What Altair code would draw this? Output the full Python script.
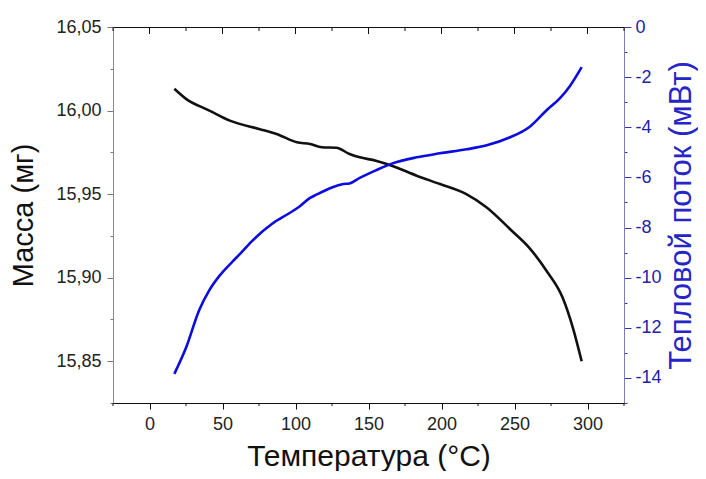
import altair as alt
import pandas as pd

# Mass curve (black, left axis)
temp_mass = [17, 25, 41, 55, 75, 87, 101, 110, 118, 128, 137, 144, 155, 166, 183,
             199, 217, 231, 247, 260, 272, 283, 290, 296]
mass = [16.013, 16.007, 16.000, 15.994, 15.989, 15.986, 15.981, 15.980, 15.978,
        15.9777, 15.974, 15.972, 15.970, 15.967, 15.961, 15.956, 15.950, 15.942,
        15.929, 15.918, 15.904, 15.888, 15.870, 15.850]

# Heat flow curve (blue, right axis)
temp_hf = [17, 25, 34, 41, 48, 57, 62, 70, 84, 96, 103, 110, 114, 125, 132, 137,
           144, 155, 166, 183, 199, 217, 231, 247, 260, 272, 281, 288, 296]
heat = [-13.84, -12.8, -11.3, -10.5, -9.92, -9.35, -9.05, -8.55, -7.85, -7.42,
        -7.15, -6.82, -6.7, -6.4, -6.27, -6.24, -6.02, -5.72, -5.45, -5.2, -5.04,
        -4.88, -4.72, -4.4, -4.0, -3.32, -2.85, -2.35, -1.6]

# Axis tick values
x_major = [0, 50, 100, 150, 200, 250, 300]
x_minor = [-25, 25, 75, 125, 175, 225, 275, 325]
mass_ticks = [15.825, 15.85, 15.875, 15.9, 15.925, 15.95, 15.975, 16.0, 16.025, 16.05]
heat_ticks = [0, -1, -2, -3, -4, -5, -6, -7, -8, -9, -10, -11, -12, -13, -14, -15]

FONT = "Liberation Sans"
W, H = 511, 376

df_mass = pd.DataFrame({"T": temp_mass, "m": mass})
df_hf = pd.DataFrame({"T": temp_hf, "h": heat})
df_major = pd.DataFrame({"T": x_major})
df_minor = pd.DataFrame({"T": x_minor})

xs = alt.Scale(domain=[-25, 325], nice=False, zero=False)

x_axis = alt.Axis(
    orient="bottom", values=x_major, title="Температура (°C)", format="d",
    tickSize=6, tickColor="#111111",
    labelFontSize=18, labelFont=FONT, labelColor="#222222", labelPadding=6,
    titleFontSize=30, titleFont=FONT, titleFontWeight="normal", titleColor="#111111",
    titlePadding=8, domainColor="#111111", grid=False,
    labelOverlap=False, labelFlush=False,
)

left_axis = alt.Axis(
    orient="left", values=mass_ticks, title="Масса (мг)",
    labelExpr="round(datum.value*40) % 2 === 0 ? replace(format(datum.value, '.2f'), '.', ',') : ''",
    tickSize={"condition": {"test": "round(datum.value*40) % 2 === 0", "value": 6}, "value": 3},
    labelFontSize=18, labelFont=FONT, labelColor="#222222", labelPadding=6,
    titleFontSize=29, titleFont=FONT, titleFontWeight="normal", titleColor="#111111",
    titlePadding=17, domainColor="#8a8a8a", tickColor="#777777", grid=False,
    labelOverlap=False, labelFlush=False,
)

right_axis = alt.Axis(
    orient="right", values=heat_ticks, title="Тепловой поток (мВт)",
    labelExpr="datum.value % 2 === 0 ? '' + datum.value : ''",
    tickSize={"condition": {"test": "datum.value % 2 === 0", "value": 7}, "value": 3},
    labelFontSize=18, labelFont=FONT, labelColor="#2222a8", labelPadding=4,
    titleFontSize=31, titleFont=FONT, titleFontWeight="normal", titleColor="#2626c8",
    titleAngle=270, titleBaseline="top",
    titlePadding=5, domainColor="#7c7cbf", tickColor="#3535a5", grid=False,
    labelOverlap=False, labelFlush=False,
)

mass_line = alt.Chart(df_mass).mark_line(
    color="#111111", strokeWidth=2.6, interpolate="monotone"
).encode(
    x=alt.X("T:Q", scale=xs, axis=x_axis),
    y=alt.Y("m:Q", scale=alt.Scale(domain=[15.825, 16.05], nice=False, zero=False),
            axis=left_axis),
)

hf_line = alt.Chart(df_hf).mark_line(
    color="#0c0ce0", strokeWidth=2.6, interpolate="monotone"
).encode(
    x=alt.X("T:Q", scale=xs),
    y=alt.Y("h:Q", scale=alt.Scale(domain=[-15, 0], nice=False, zero=False),
            axis=right_axis),
)

# top (inward) ticks and bottom minor ticks
top_major = alt.Chart(df_major).mark_rule(
    color="#111111", strokeWidth=1, orient="vertical"
).encode(
    x=alt.X("T:Q", scale=xs), y=alt.value(0), y2=alt.value(7),
)
top_minor = alt.Chart(df_minor).mark_rule(
    color="#111111", strokeWidth=1, orient="vertical"
).encode(
    x=alt.X("T:Q", scale=xs), y=alt.value(0), y2=alt.value(4),
)
bottom_minor = alt.Chart(df_minor).mark_rule(
    color="#111111", strokeWidth=1, orient="vertical"
).encode(
    x=alt.X("T:Q", scale=xs), y=alt.value(H), y2=alt.value(H + 3),
)

chart = alt.layer(mass_line, hf_line, top_major, top_minor, bottom_minor).resolve_scale(
    y="independent"
).properties(
    width=W, height=H,
    autosize=alt.AutoSizeParams(type="none"),
    padding={"left": 105, "top": 19, "right": 74, "bottom": 68},
    background="white",
).configure_view(stroke="#111111", strokeWidth=1)

chart.save("out.html", embed_options={"renderer": "svg", "actions": False})
